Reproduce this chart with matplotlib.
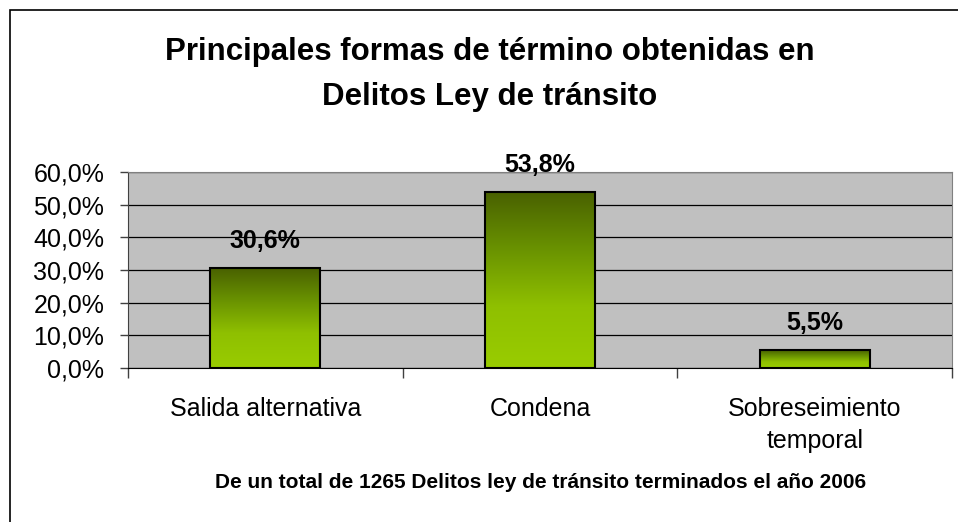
import matplotlib
matplotlib.use('Agg')
import matplotlib.pyplot as plt
import numpy as np
from matplotlib.colors import LinearSegmentedColormap
from matplotlib.patches import Rectangle

plt.rcParams['font.family'] = ['Liberation Sans', 'DejaVu Sans']

categories = ['Salida alternativa', 'Condena', 'Sobreseimiento\ntemporal']
values = [30.6, 53.8, 5.5]
value_labels = ['30,6%', '53,8%', '5,5%']
yticks = [0, 10, 20, 30, 40, 50, 60]

W, H = 958, 522
fig = plt.figure(figsize=(W / 100, H / 100), dpi=100)
fig.patch.set_facecolor('white')

# marco exterior del grafico
fig.patches.append(Rectangle((10 / W, -0.05), 1.1, 1 - 10 / H + 0.05, transform=fig.transFigure,
                             fill=False, edgecolor='black', linewidth=1.2))

ax = fig.add_axes([128 / W, (H - 368) / H, 824 / W, 196 / H])
ax.set_facecolor('#C0C0C0')

# degradado verde: oscuro arriba, claro abajo
cmap = LinearSegmentedColormap.from_list('verde', [(0.0, '#99CC00'), (0.35, '#8FC000'),
                                                   (0.7, '#678F00'), (1.0, '#496100')])
grad = np.linspace(0, 1, 256).reshape(-1, 1)
width = 0.4
for i, v in enumerate(values):
    x0 = i - width / 2
    im = ax.imshow(grad, extent=[x0, x0 + width, 0, v], origin='lower', cmap=cmap,
                   aspect='auto', zorder=3, interpolation='bilinear')
    rect = Rectangle((x0, 0), width, v, facecolor='none', edgecolor='black', linewidth=1.5, zorder=4)
    ax.add_patch(rect)
    im.set_clip_path(rect)
    ax.text(i, v + 8.3, value_labels[i], ha='center', va='center', fontsize=18,
            fontweight='bold', zorder=5)

ax.set_xlim(-0.5, 2.5)
ax.set_ylim(0, 60)
ax.set_yticks(yticks)
ax.set_yticklabels(['%d,0%%' % t for t in yticks], fontsize=18)
ax.yaxis.grid(True, color='black', linewidth=0.9, zorder=1)
ax.set_axisbelow(True)
ax.tick_params(axis='y', length=6, width=1, color='#404040', pad=11)

ax.set_xticks(range(len(categories)))
ax.set_xticklabels(categories, fontsize=18, linespacing=1.4)
ax.set_xticks([-0.5, 0.5, 1.5, 2.5], minor=True)
ax.tick_params(axis='x', which='major', length=0, pad=21)
ax.tick_params(axis='x', which='minor', length=7, width=1, color='#404040')

for s in ['top', 'right']:
    ax.spines[s].set_color('#808080')
ax.spines['left'].set_color('#404040')
ax.spines['bottom'].set_color('black')

fig.text(490 / W, 1 - 74.5 / H, 'Principales formas de término obtenidas en\nDelitos Ley de tránsito',
         ha='center', va='center', fontsize=22.5, fontweight='bold', linespacing=1.67)
fig.text(541 / W, 1 - 483 / H, 'De un total de 1265 Delitos ley de tránsito terminados el año 2006',
         ha='center', va='center', fontsize=15, fontweight='bold')

fig.savefig('out.png', dpi=100)
